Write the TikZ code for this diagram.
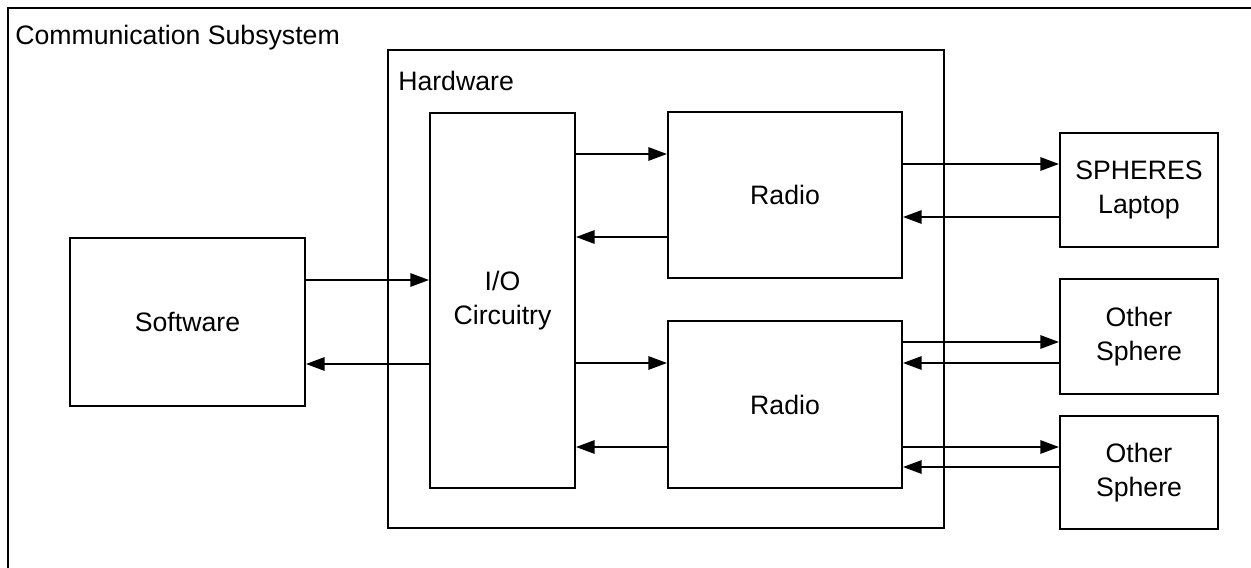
\documentclass[tikz,border=0pt]{standalone}
\usepackage{fontspec}
\setmainfont{Liberation Sans}
\usetikzlibrary{arrows.meta}
\begin{document}
\begin{tikzpicture}[x=0.75pt,y=-0.75pt,
  box/.style={draw,line width=1.5pt,inner sep=0pt,align=center,font=\fontsize{20}{25}\selectfont},
  arr/.style={line width=1.5pt,-{Triangle[length=14pt,width=10pt]}},
  lbl/.style={anchor=west,inner sep=0pt,font=\fontsize{20}{25}\selectfont}]
\useasboundingbox (0,0) rectangle (1251,567);
% outer frame (cropped at right and bottom)
\coordinate (otr) at (1252,8);
\coordinate (otl) at (8,8);
\coordinate (obl) at (8,568);
\draw[line width=2.2pt] (otr) -- (otl) -- (obl);
\node[lbl] (title) at (15,38) {Communication Subsystem};
% hardware container
\node[box,minimum width=417pt,minimum height=358.5pt] (hw) at (666,289) {};
\node[lbl] (hwl) at (398,81) {Hardware};
% blocks
\node[box,minimum width=176.25pt,minimum height=126pt] (sw) at (187.5,322) {Software};
\node[box,minimum width=108.75pt,minimum height=281.25pt] (io) at (502.5,300.5) {I/O\\Circuitry};
\node[box,minimum width=175.5pt,minimum height=124.5pt] (r1) at (785,195) {Radio};
\node[box,minimum width=175.5pt,minimum height=125.25pt] (r2) at (785,404.5) {Radio};
\node[box,minimum width=118.5pt,minimum height=85.5pt] (lap) at (1139,190) {SPHERES\\Laptop};
\node[box,minimum width=118.5pt,minimum height=86.25pt] (os1) at (1139,336.5) {Other\\Sphere};
\node[box,minimum width=118.5pt,minimum height=84.75pt] (os2) at (1139,472.5) {Other\\Sphere};
% connectors
\draw[arr] (sw.east |- 0,280) -- (io.west |- 0,280);
\draw[arr] (io.west |- 0,364) -- (sw.east |- 0,364);
\draw[arr] (io.east |- 0,154) -- (r1.west |- 0,154);
\draw[arr] (r1.west |- 0,237) -- (io.east |- 0,237);
\draw[arr] (io.east |- 0,363) -- (r2.west |- 0,363);
\draw[arr] (r2.west |- 0,447) -- (io.east |- 0,447);
\draw[arr] (r1.east |- 0,164) -- (lap.west |- 0,164);
\draw[arr] (lap.west |- 0,217) -- (r1.east |- 0,217);
\draw[arr] (r2.east |- 0,342) -- (os1.west |- 0,342);
\draw[arr] (os1.west |- 0,363) -- (r2.east |- 0,363);
\draw[arr] (r2.east |- 0,447) -- (os2.west |- 0,447);
\draw[arr] (os2.west |- 0,467) -- (r2.east |- 0,467);
\end{tikzpicture}
\end{document}
